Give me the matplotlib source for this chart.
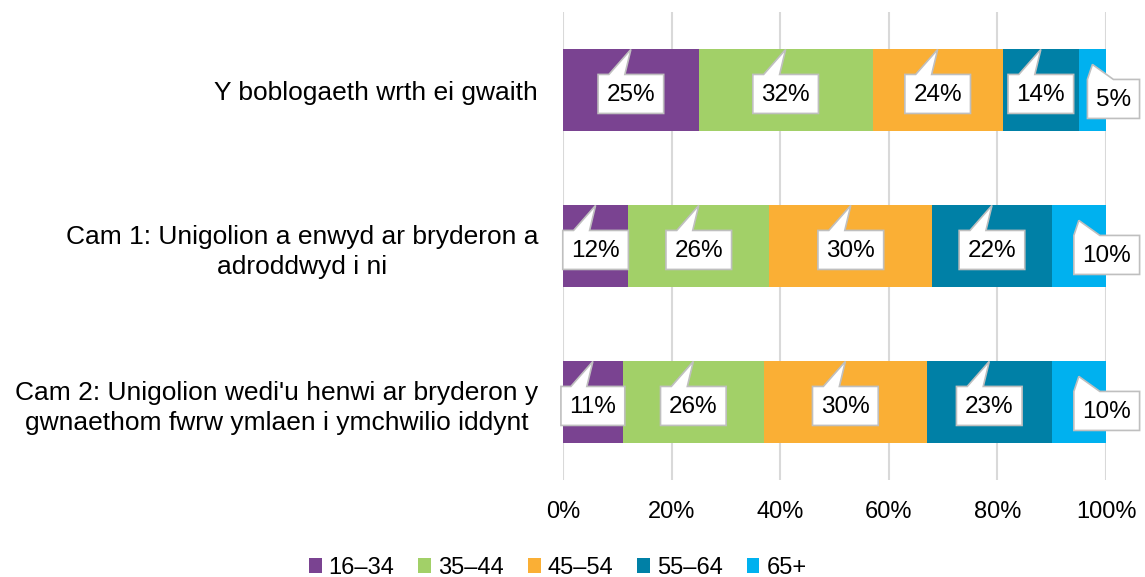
import matplotlib
matplotlib.use("Agg")
import matplotlib.pyplot as plt
from matplotlib.patches import Polygon, Patch
from matplotlib.transforms import IdentityTransform
from matplotlib.ticker import FuncFormatter

plt.rcParams['font.family'] = ['Liberation Sans', 'DejaVu Sans']

# Data
categories = [
    "Y boblogaeth wrth ei gwaith",
    "Cam 1: Unigolion a enwyd ar bryderon a\nadroddwyd i ni",
    "Cam 2: Unigolion wedi'u henwi ar bryderon y\ngwnaethom fwrw ymlaen i ymchwilio iddynt",
]
age_groups = ["16\u201334", "35\u201344", "45\u201354", "55\u201364", "65+"]
share_16_34 = [25, 12, 11]
share_35_44 = [32, 26, 26]
share_45_54 = [24, 30, 30]
share_55_64 = [14, 22, 23]
share_65_plus = [5, 10, 10]
series = [share_16_34, share_35_44, share_45_54, share_55_64, share_65_plus]
colors = ["#7A4391", "#A2D068", "#FAAF35", "#0080A6", "#00B1EF"]

FS = 17
W, H = 1145, 577
fig = plt.figure(figsize=(W / 100, H / 100), dpi=100)
ax = fig.add_axes([563 / W, (H - 480) / H, 543 / W, 468 / H])

ypos = list(range(len(categories)))
lefts = [0] * len(categories)
bars = []
for vals, col in zip(series, colors):
    b = ax.barh(ypos, vals, left=lefts, height=0.52, color=col, zorder=2)
    bars.append(b)
    lefts = [l + v for l, v in zip(lefts, vals)]

ax.set_xlim(0, 100)
ax.set_ylim(len(categories) - 0.5, -0.5)
ax.set_xticks(range(0, 101, 20))
ax.xaxis.set_major_formatter(FuncFormatter(lambda v, p: f"{int(v)}%"))
ax.set_yticks(ypos)
ax.set_yticklabels(categories, multialignment='center', fontsize=19,
                   linespacing=1.35)
ax.tick_params(axis='both', length=0, colors='#000000')
ax.tick_params(axis='x', pad=15, labelsize=FS)
ax.tick_params(axis='y', pad=18)
ax.grid(axis='x', color='#D9D9D9', linewidth=1.5, zorder=0)
ax.set_axisbelow(True)
for s in ax.spines.values():
    s.set_visible(False)

# Callout data labels
fig.canvas.draw()
renderer = fig.canvas.get_renderer()
to_disp = ax.transData.transform
for si, (vals, b) in enumerate(zip(series, bars)):
    last = si == len(series) - 1
    for ci, rect in enumerate(b.patches):
        x0 = rect.get_x()
        w = rect.get_width()
        ytop = rect.get_y()  # inverted axis: smaller y is top
        cx, ty = to_disp((x0 + w / 2, ytop))
        label = f"{vals[ci]}%"
        t = ax.text(0, 0, label, fontsize=FS + 0.5, transform=IdentityTransform(),
                    ha='center', va='center', zorder=6)
        tw = t.get_window_extent(renderer).width
        bw, bh = tw + 17, 39
        if not last:
            tip = (cx, ty)
            bx = cx
            top = ty - 25
            pts = [(bx - bw / 2, top), (bx - 22, top), tip, (bx - 6, top),
                   (bx + bw / 2, top), (bx + bw / 2, top - bh),
                   (bx - bw / 2, top - bh)]
        else:
            tip = (cx, ty - 15)
            left = cx - 5
            top = tip[1] - 15
            bx = left + bw / 2
            pts = [(left, top), tip, (left + 26, top), (left + bw, top),
                   (left + bw, top - bh), (left, top - bh)]
        t.set_position((bx, top - bh / 2 - 1))
        ax.add_patch(Polygon(pts, closed=True, facecolor='white',
                             edgecolor='#BFBFBF', linewidth=1.2,
                             transform=IdentityTransform(), clip_on=False,
                             zorder=5))

handles = [Patch(facecolor=c, label=g) for c, g in zip(colors, age_groups)]
fig.legend(handles=handles, loc='center', bbox_to_anchor=(0.487, 0.016),
           ncol=5, frameon=False, fontsize=FS, handlelength=0.55,
           handleheight=0.55, handletextpad=0.3, columnspacing=1.0,
           borderpad=0)

fig.savefig("out.png", dpi=100)
